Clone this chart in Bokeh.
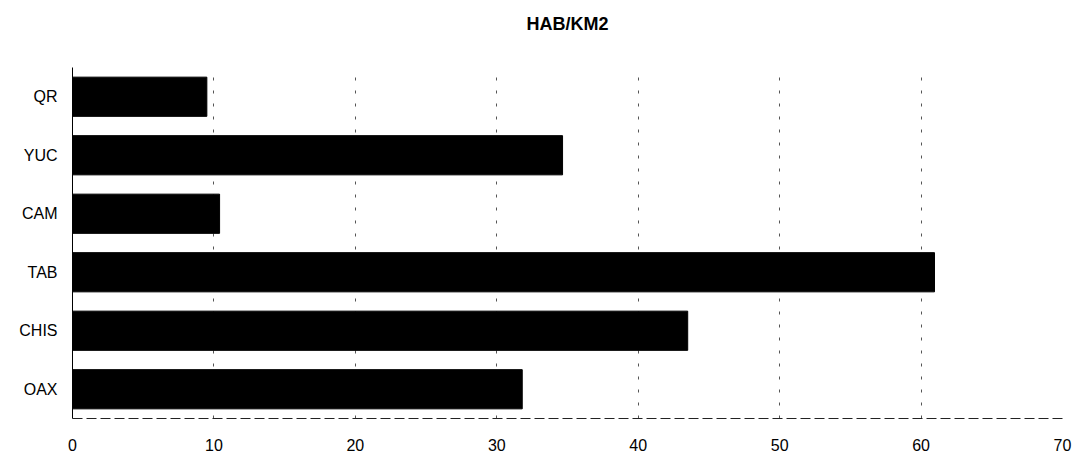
from bokeh.plotting import figure
from bokeh.models import Range1d, FactorRange, Title
from bokeh.embed import file_html
from bokeh.resources import INLINE

categories = ["QR", "YUC", "CAM", "TAB", "CHIS", "OAX"]
values = [9.5, 34.65, 10.4, 60.95, 43.5, 31.8]
x_ticks = [0, 10, 20, 30, 40, 50, 60, 70]
title_text = "HAB/KM2"

p = figure(width=1076, height=456, output_backend="svg", toolbar_location=None,
           y_range=FactorRange(*reversed(categories), range_padding=0),
           x_range=Range1d(0, 70),
           min_border_left=72, min_border_right=14, min_border_top=0, min_border_bottom=38)

# spacer panel between frame and title
spacer = Title(text=" ", text_font_size="1px", standoff=19)
p.add_layout(spacer, "above")
main_title = Title(text=title_text, align="center", text_font="Liberation Sans",
                   text_font_size="18px", text_font_style="bold", text_color="black",
                   standoff=23, offset=0)
p.add_layout(main_title, "above")

p.hbar(y=categories, right=values, left=0, height=0.67, color="black")

p.outline_line_color = None
p.background_fill_color = "white"
p.border_fill_color = "white"

p.xgrid.ticker = x_ticks[1:]
p.xgrid.grid_line_color = "#555555"
p.xgrid.grid_line_dash = "3 10"
p.xgrid.grid_line_width = 1
p.ygrid.grid_line_color = None

p.xaxis.ticker = x_ticks
p.xaxis.axis_line_color = "#222222"
p.xaxis.axis_line_dash = "10 4"
p.xaxis.major_tick_line_color = None
p.xaxis.major_tick_out = 0
p.xaxis.major_tick_in = 0
p.xaxis.minor_tick_line_color = None
p.xaxis.major_label_text_font = "Liberation Sans"
p.xaxis.major_label_text_font_size = "16px"
p.xaxis.major_label_text_color = "black"
p.xaxis.major_label_standoff = 20

p.yaxis.axis_line_color = "black"
p.yaxis.axis_line_width = 1
p.yaxis.major_tick_line_color = None
p.yaxis.major_tick_out = 0
p.yaxis.major_tick_in = 0
p.yaxis.minor_tick_line_color = None
p.yaxis.major_label_text_font = "Liberation Sans"
p.yaxis.major_label_text_font_size = "16px"
p.yaxis.major_label_text_color = "black"
p.yaxis.major_label_standoff = 15

open("out.html", "w").write(file_html(p, INLINE))
